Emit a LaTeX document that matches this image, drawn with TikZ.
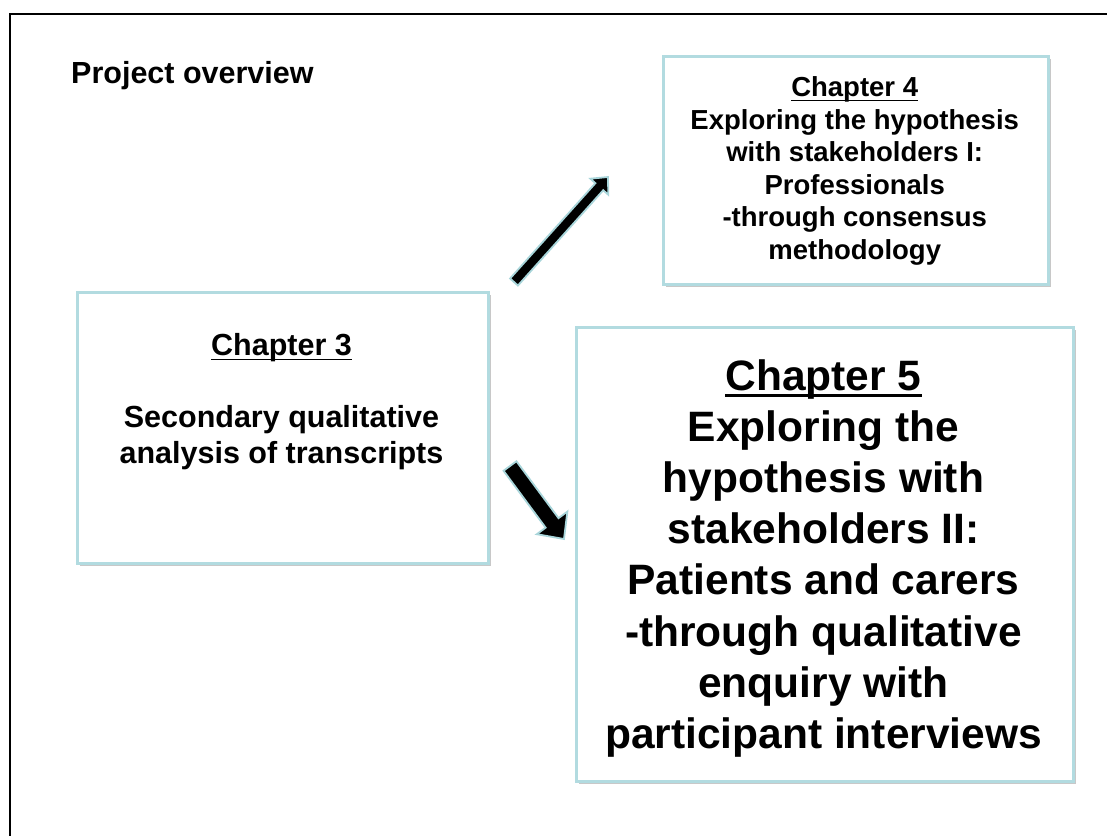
\documentclass[tikz,border=0pt]{standalone}
\usepackage{fontspec}
\setmainfont{Liberation Sans}
\usetikzlibrary{calc,shadows}
\definecolor{boxblue}{HTML}{B2DBE0}
\definecolor{arrowblue}{HTML}{A8D5DA}
\newcommand\myul[1]{\setbox0\hbox{#1}\rlap{\rule[-0.17em]{\wd0}{0.065em}}\box0}
\newcommand\blockarrow[5]{% tail, tip, shaft w, head w, head l
  \path let \p1=($(#2)-(#1)$) in \pgfextra{\pgfmathsetmacro\barang{atan2(\y1,\x1)}\pgfmathsetmacro\barlen{veclen(\x1,\y1)}\global\let\barang\barang\global\let\barlen\barlen};
  \fill[black, opacity=0.3, xshift=2.5pt, yshift=-3pt, shift={(#1)}, rotate=\barang]
    (0,-#3/2) -- ({\barlen-#5},-#3/2) -- ({\barlen-#5},-#4/2) -- (\barlen,0) -- ({\barlen-#5},#4/2) -- ({\barlen-#5},#3/2) -- (0,#3/2) -- cycle;
  \draw[blockarr, shift={(#1)}, rotate=\barang]
    (0,-#3/2) -- ({\barlen-#5},-#3/2) -- ({\barlen-#5},-#4/2) -- (\barlen,0) -- ({\barlen-#5},#4/2) -- ({\barlen-#5},#3/2) -- (0,#3/2) -- cycle;
}
\tikzset{
  box/.style={draw=boxblue, line width=2.5pt, fill=white, inner sep=0pt,
    drop shadow={shadow xshift=2.5pt, shadow yshift=-3pt, opacity=0.3, fill=black!70}},
  txt/.style={align=center, inner sep=0pt},
  blockarr/.style={fill=black, draw=arrowblue, line width=1.8pt, line join=miter},
}
\begin{document}
\begin{tikzpicture}[x=1pt,y=-1pt]
\useasboundingbox[fill=white] (0,0) rectangle (1107,836);
% frame
\draw[line width=2pt] (1107,14) -- (10,14) -- (10,836);
% title
\node[txt, anchor=base west, font=\bfseries\fontsize{30.5}{36}\selectfont] (title) at (71,83) {Project overview};
% boxes
\node[box, anchor=north west, minimum width=411pt, minimum height=271pt] (ch3) at (76,291) {};
\node[box, anchor=north west, minimum width=385pt, minimum height=228pt] (ch4) at (662,55) {};
\node[box, anchor=north west, minimum width=497pt, minimum height=454pt] (ch5) at (575,326) {};
% texts
\node[txt, anchor=north, font=\bfseries\fontsize{30.5}{36}\selectfont] (t3) at (281.5,333)
  {\myul{Chapter 3}\\[36pt]Secondary qualitative\\analysis of transcripts};
\node[txt, anchor=north, font=\bfseries\fontsize{27.5}{32.5}\selectfont] (t4) at (854.7,76.5)
  {\myul{Chapter 4}\\Exploring the hypothesis\\with stakeholders I:\\Professionals\\-through consensus\\methodology};
\node[txt, anchor=north, font=\bfseries\fontsize{42.5}{51.2}\selectfont] (t5) at (823.5,359)
  {\myul{Chapter 5}\\Exploring the\\hypothesis with\\stakeholders II:\\Patients and carers\\-through qualitative\\enquiry with\\participant interviews};
% arrows
\coordinate (a1s) at (514,282);
\coordinate (a1e) at (608,177);
\coordinate (a2s) at (510,466);
\coordinate (a2e) at (564,539);
\blockarrow{a1s}{a1e}{10.5}{24}{13}
\blockarrow{a2s}{a2e}{16}{38}{20}
\end{tikzpicture}
\end{document}
